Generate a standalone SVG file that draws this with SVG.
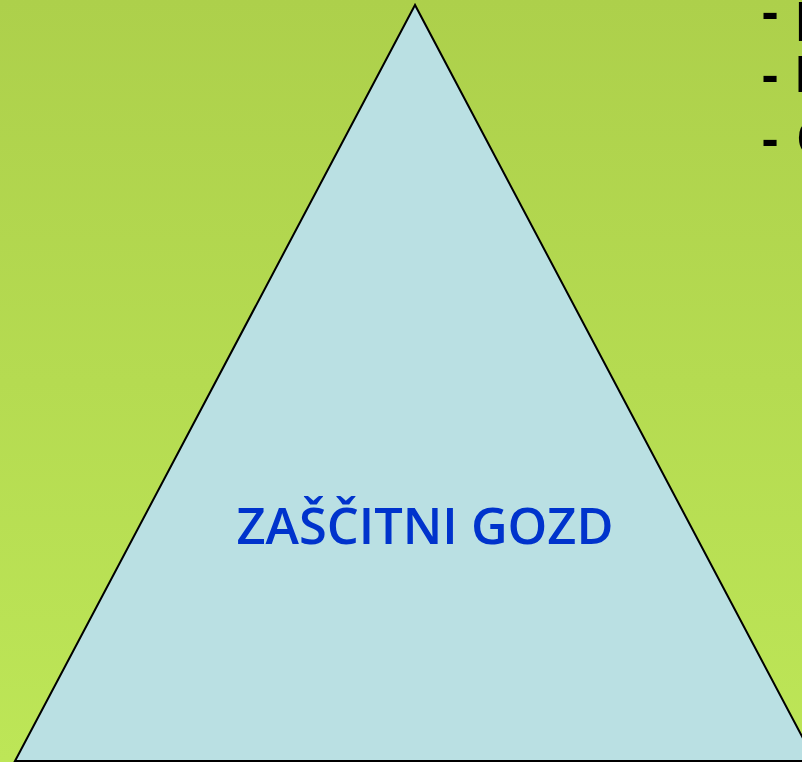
<svg xmlns="http://www.w3.org/2000/svg" width="802" height="762" viewBox="0 0 802 762">
<defs>
<linearGradient id="bg" x1="0" y1="0" x2="0" y2="1">
<stop offset="0" stop-color="#add04b"/>
<stop offset="1" stop-color="#bde657"/>
</linearGradient>
<style>
.side{font-family:"Open Sans","Liberation Sans",sans-serif;font-weight:700;font-size:50px;fill:#000}
.title{font-family:"Open Sans","Liberation Sans",sans-serif;font-weight:600;font-size:50px;fill:#0033cc}
</style>
</defs>
<rect x="0" y="0" width="802" height="762" fill="url(#bg)"/>
<g id="triangle">
<polygon points="415,5 15,761 815,761" fill="#bae0e3" stroke="#000" stroke-width="2"/>
<text class="title" x="425" y="544" text-anchor="middle" textLength="377" lengthAdjust="spacingAndGlyphs">ZAŠČITNI GOZD</text>
</g>
<g id="list">
<text class="side" y="29"><tspan x="762">-</tspan><tspan x="795">p</tspan></text>
<text class="side" y="92"><tspan x="762">-</tspan><tspan x="794">P</tspan></text>
<text class="side" y="156"><tspan x="762">-</tspan><tspan x="796">O</tspan></text>
</g>
</svg>
